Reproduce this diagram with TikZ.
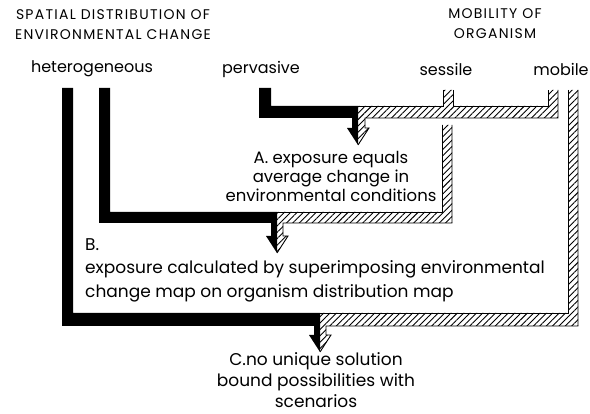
\documentclass[tikz,border=0pt]{standalone}
\usepackage{fontspec}
\setmainfont{Poppins}
\usetikzlibrary{patterns.meta}

\begin{document}
\begin{tikzpicture}[x=1pt, y=-1pt,
  ttl/.style={font=\fontsize{14}{20}\selectfont\addfontfeatures{LetterSpace=9}, align=center, inner sep=0pt},
  lbl/.style={font=\fontsize{16}{18}\selectfont, inner sep=0pt},
  txt/.style={font=\fontsize{17}{19}\selectfont, inner sep=0pt},
  blackbar/.style={fill=black},
  hatchbar/.style={pattern={Lines[angle=45, distance=4.5pt, line width=0.9pt]}},
  rim/.style={line width=0.9pt}]
  \useasboundingbox (0,0) rectangle (590,414);
  % column heads
  \node[ttl] (spatial) at (113,25) {SPATIAL DISTRIBUTION OF\\ENVIRONMENTAL CHANGE};
  \node[ttl] (mobility) at (495,24) {MOBILITY OF\\ORGANISM};
  \node[lbl] (hetero) at (92,69) {heterogeneous};
  \node[lbl] (perv) at (261,69) {pervasive};
  \node[lbl] (sess) at (446,69) {sessile};
  \node[lbl] (mob) at (561,69) {mobile};
  % outcomes
  \node[txt, align=center, font=\fontsize{16.5}{19}\selectfont] (resA) at (331,176)
    {A. exposure equals\\average change in\\environmental conditions};
  \node[txt, align=left, anchor=west, font=\fontsize{17}{23.5}\selectfont] (resB) at (85,270)
    {B.\\exposure calculated by superimposing environmental\\change map on organism distribution map};
  \node[txt, align=center, font=\fontsize{17}{21}\selectfont] (resC) at (316,380)
    {C.no unique solution\\bound possibilities with\\scenarios};
  % pervasive + sessile/mobile -> A
  \fill[blackbar] (259,88) -- (271,88) -- (271,106) -- (358,106) -- (358,145)
    -- (347,128) -- (352,128) -- (352,118) -- (259,118) -- cycle;
  \fill[hatchbar] (358,106) -- (443,106) -- (443,90) -- (453,90) -- (453,106) -- (548,106)
    -- (548,90) -- (558,90) -- (558,118) -- (365,118) -- (365,128) -- (369,128) -- (358,145) -- cycle;
  \draw[rim] (443,90) -- (443,106) -- (358,106);
  \draw[rim] (453,90) -- (453,106) -- (548,106) -- (548,90);
  \draw[rim] (558,90) -- (558,118) -- (365,118) -- (365,128) -- (369,128) -- (358,145);
  % heterogeneous + sessile -> B
  \fill[blackbar] (99,88) -- (110,88) -- (110,212) -- (277,212) -- (277,253)
    -- (266,236) -- (271,236) -- (271,223) -- (99,223) -- cycle;
  \fill[hatchbar] (277,212) -- (442,212) -- (442,125) -- (452,125) -- (452,223)
    -- (283,223) -- (283,236) -- (288,236) -- (277,253) -- cycle;
  \draw[rim] (442,125) -- (442,212) -- (277,212);
  \draw[rim] (452,125) -- (452,223) -- (283,223) -- (283,236) -- (288,236) -- (277,253);
  % heterogeneous + mobile -> C
  \fill[blackbar] (62,88) -- (73,88) -- (73,313) -- (320,313) -- (320,352)
    -- (309,335) -- (314,335) -- (314,326) -- (62,326) -- cycle;
  \fill[hatchbar] (320,313) -- (568,313) -- (568,90) -- (578,90) -- (578,326)
    -- (326,326) -- (326,335) -- (331,335) -- (320,352) -- cycle;
  \draw[rim] (568,90) -- (568,313) -- (320,313);
  \draw[rim] (578,90) -- (578,326) -- (326,326) -- (326,335) -- (331,335) -- (320,352);
\end{tikzpicture}
\end{document}
